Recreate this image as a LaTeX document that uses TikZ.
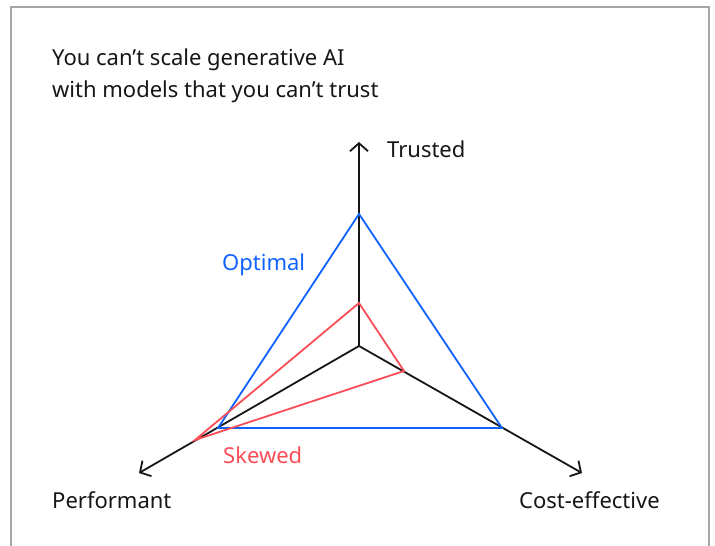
\documentclass[tikz,border=0pt]{standalone}
\usepackage{fontspec}
\setmainfont{Noto Sans}
\usetikzlibrary{arrows.meta}
\definecolor{ibmblue}{HTML}{0F62FE}
\definecolor{ibmred}{HTML}{FA4D56}
\definecolor{ink}{HTML}{161616}
\tikzset{
  txt/.style = {font=\fontsize{22}{32}\selectfont, text=ink, inner sep=0pt, anchor=base west},
  axis/.style = {draw=ink, line width=1.8pt, -{Straight Barb[length=8pt,width=18pt]}},
  optimal/.style = {draw=ibmblue, line width=1.8pt, line join=miter},
  skewed/.style = {draw=ibmred, line width=1.8pt, line join=miter},
}

\begin{document}
\begin{tikzpicture}[x=1pt,y=-1pt]
\useasboundingbox (0,0) rectangle (715,546);
% frame, open at the bottom
\draw[gray!70, line width=1.5pt] (11,560) -- (11,7) -- (709,7) -- (709,560);

% title (base is the last line)
\node[txt, align=left] (title) at (52,97) {You can’t scale generative AI\\with models that you can’t trust};

% axes
\coordinate (o) at (359,346);
\coordinate (t) at (359,142);
\coordinate (p) at (139,473);
\coordinate (c) at (582,473);
\draw[axis] (o) -- (t);
\draw[axis] (o) -- (p);
\draw[axis] (o) -- (c);

% optimal triangle
\coordinate (bt) at (359,214);
\coordinate (bp) at (218,428);
\coordinate (bc) at (502,428);
\draw[optimal] (bt) -- (bp) -- (bc) -- cycle;

% skewed triangle
\coordinate (rt) at (359,303);
\coordinate (rp) at (195,440);
\coordinate (rc) at (404,371);
\draw[skewed] (rt) -- (rp) -- (rc) -- cycle;

% labels
\node[txt] (trusted) at (387,157) {Trusted};
\node[txt] (perf) at (52,508) {Performant};
\node[txt] (cost) at (519,508) {Cost-effective};
\node[txt, text=ibmblue] (opt) at (222,270) {Optimal};
\node[txt, text=ibmred] (skew) at (223,463) {Skewed};
\end{tikzpicture}
\end{document}
